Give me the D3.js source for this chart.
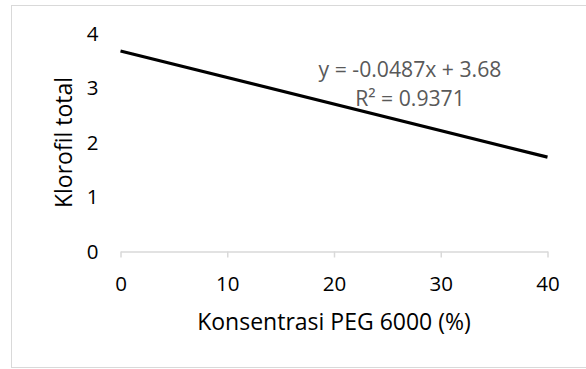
<!DOCTYPE html>
<html>
<head>
<meta charset="utf-8">
<script src="https://cdn.jsdelivr.net/npm/d3@7"></script>
<style>
  html, body { margin: 0; padding: 0; background: #fff; }
  svg { display: block; }
  text { font-family: "Open Sans", "Noto Sans", sans-serif; }
</style>
</head>
<body>
<svg id="chart" width="586" height="369"></svg>
<script>
// Linear trend of total chlorophyll vs. PEG 6000 concentration
const trendSlope = -0.0487;
const trendIntercept = 3.68;
const trendX = [0, 40];
const xTicks = [0, 10, 20, 30, 40];
const yTicks = [0, 1, 2, 3, 4];
const equationLabel = "y = -0.0487x + 3.68";
const r2Label = "R² = 0.9371";
const xTitle = "Konsentrasi PEG 6000 (%)";
const yTitle = "Klorofil total";

const svg = d3.select("#chart");
const W = 586, H = 369;

// chart-area frame
svg.append("rect")
  .attr("x", 11.5).attr("y", 5.5)
  .attr("width", W + 10).attr("height", 362)
  .attr("fill", "#fff").attr("stroke", "#d9d9d9").attr("stroke-width", 1);

const x = d3.scaleLinear().domain([0, 40]).range([120.5, 547.5]);
const y = d3.scaleLinear().domain([0, 4]).range([251.5, 33.5]);

// x axis: baseline + outward ticks
const xAxis = svg.append("g").attr("transform", `translate(0,${y(0)})`)
  .call(d3.axisBottom(x).tickValues(xTicks).tickSize(6).tickSizeOuter(0).tickFormat(d3.format("d")));
xAxis.select(".domain").attr("stroke", "#d9d9d9").attr("stroke-width", 1.5);
xAxis.selectAll(".tick line").attr("stroke", "#d9d9d9").attr("stroke-width", 1.5);
xAxis.selectAll(".tick text")
  .attr("y", 0).attr("dy", null)
  .attr("transform", "translate(0,39.5)")
  .attr("font-size", 20.5).attr("fill", "#000")
  .style("font-family", "'Open Sans', sans-serif");

// y axis: labels only
const yAxis = svg.append("g").attr("transform", `translate(${x(0)},0)`)
  .call(d3.axisLeft(y).tickValues(yTicks).tickSize(0).tickPadding(22).tickFormat(d3.format("d")));
yAxis.select(".domain").remove();
yAxis.selectAll(".tick text")
  .attr("font-size", 20.5).attr("fill", "#000")
  .style("font-family", "'Open Sans', sans-serif");

// trend line
const line = d3.line().x(d => x(d)).y(d => y(trendIntercept + trendSlope * d));
svg.append("path")
  .datum(trendX)
  .attr("d", line)
  .attr("fill", "none").attr("stroke", "#000").attr("stroke-width", 3.2);

// regression equation
const eq = svg.append("text").attr("text-anchor", "middle")
  .attr("font-size", 21.2).attr("fill", "#595959");
eq.append("tspan").attr("x", 410).attr("y", 76.5).text(equationLabel);
eq.append("tspan").attr("x", 410).attr("y", 105.5).text(r2Label);

// axis titles
svg.append("text")
  .attr("x", (x(0) + x(40)) / 2).attr("y", 329.5)
  .attr("text-anchor", "middle").attr("font-size", 23).attr("fill", "#000")
  .text(xTitle);

svg.append("text")
  .attr("transform", `translate(71.5,${(y(0) + y(4)) / 2}) rotate(-90)`)
  .attr("text-anchor", "middle").attr("font-size", 23).attr("fill", "#000")
  .text(yTitle);
</script>
</body>
</html>
